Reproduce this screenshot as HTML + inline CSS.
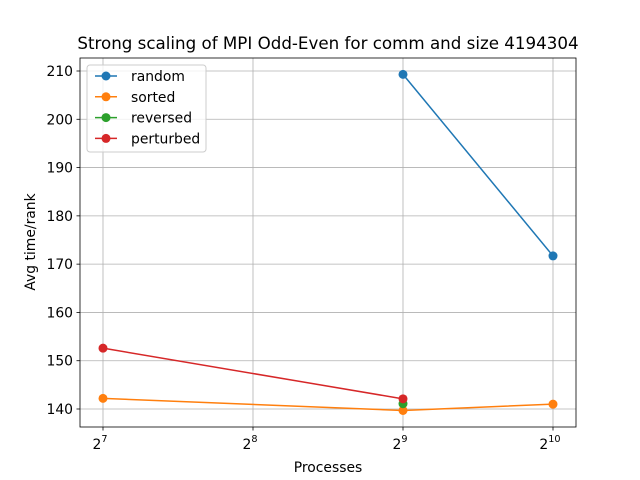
<!DOCTYPE html>
<html><head><meta charset="utf-8"><style>body{margin:0;background:#fff}svg{display:block;font-family:"DejaVu Sans","Liberation Sans",sans-serif}</style></head>
<body>
<svg id="chart" width="640" height="480" xmlns="http://www.w3.org/2000/svg"></svg>
<script>
const seriesNames = ["random","sorted","reversed","perturbed"];
const colors = ["#1f77b4","#ff7f0e","#2ca02c","#d62728"];
const randomX = [9,10], randomY = [209.3,171.7];
const sortedX = [7,9,10], sortedY = [142.2,139.7,141.0];
const reversedX = [9], reversedY = [141.1];
const perturbedX = [7,9], perturbedY = [152.6,142.1];
const xTicks = [7,8,9,10];
const yTicks = [140,150,160,170,180,190,200,210];
const L=80,R=576,T=58,B=427;
const sx = v => 103 + (v-7)*150;
const sy = v => 71 + (210-v)*(409-71)/70;
const svg = document.getElementById('chart');
const NS="http://www.w3.org/2000/svg";
function el(tag, attrs, parent){const e=document.createElementNS(NS,tag);for(const k in attrs)e.setAttribute(k,attrs[k]);(parent||svg).appendChild(e);return e;}
xTicks.forEach(t=>{const g=el('line',{x1:sx(t),x2:sx(t),y1:T,y2:B,stroke:'#b0b0b0','stroke-width':0.8});


const tk=el('line',{x1:sx(t),x2:sx(t),y1:B,y2:B+3.5,stroke:'#000','stroke-width':0.8});


const tx=el('text',{x:sx(t)-3,y:B+22,'font-size':13.9,'text-anchor':'middle'});


tx.textContent='2';const s=el('tspan',{dy:-7,'font-size':9.7},tx);s.textContent=String(t);});
yTicks.forEach(t=>{const g=el('line',{x1:L,x2:R,y1:sy(t),y2:sy(t),stroke:'#b0b0b0','stroke-width':0.8});


const tk=el('line',{x1:L-3.5,x2:L,y1:sy(t),y2:sy(t),stroke:'#000','stroke-width':0.8});


const tx=el('text',{x:L-7,y:sy(t)+5,'font-size':13.9,'text-anchor':'end'});


tx.textContent=t;});
const frame=el('rect',{x:L,y:T,width:R-L,height:B-T,fill:'none',stroke:'#000','stroke-width':0.8});


const data=[[randomX,randomY],[sortedX,sortedY],[reversedX,reversedY],[perturbedX,perturbedY]];
data.forEach((d,i)=>{
 const pts=d[0].map((x,j)=>sx(x)+','+sy(d[1][j])).join(' ');
 const pl=el('polyline',{points:pts,fill:'none',stroke:colors[i],'stroke-width':1.5});
 
 
 d[0].forEach((x,j)=>{const c=el('circle',{cx:sx(x),cy:sy(d[1][j]),r:4.5,fill:colors[i]});
 
 });
});
const title=el('text',{x:328,y:49,'font-size':16.7,'text-anchor':'middle'});


title.textContent='Strong scaling of MPI Odd-Even for comm and size 4194304';
const xl=el('text',{x:328,y:472,'font-size':13.9,'text-anchor':'middle'});


xl.textContent='Processes';
const yl=el('text',{x:35,y:242,'font-size':13.9,'text-anchor':'middle',transform:'rotate(-90 35 242)'});


yl.textContent='Avg time/rank';
const lg=el('rect',{x:87,y:65,width:119,height:87,rx:3,fill:'#fff','fill-opacity':0.8,stroke:'#ccc'});


seriesNames.forEach((n,i)=>{const y=76+i*20.8;
 const ln=el('line',{x1:95,x2:117,y1:y,y2:y,stroke:colors[i],'stroke-width':1.5});
 
 
 el('circle',{cx:106,cy:y,r:4.5,fill:colors[i]});
 const t=el('text',{x:131,y:y+5,'font-size':13.9});
 
 
 t.textContent=n;});
</script>
</body></html>
